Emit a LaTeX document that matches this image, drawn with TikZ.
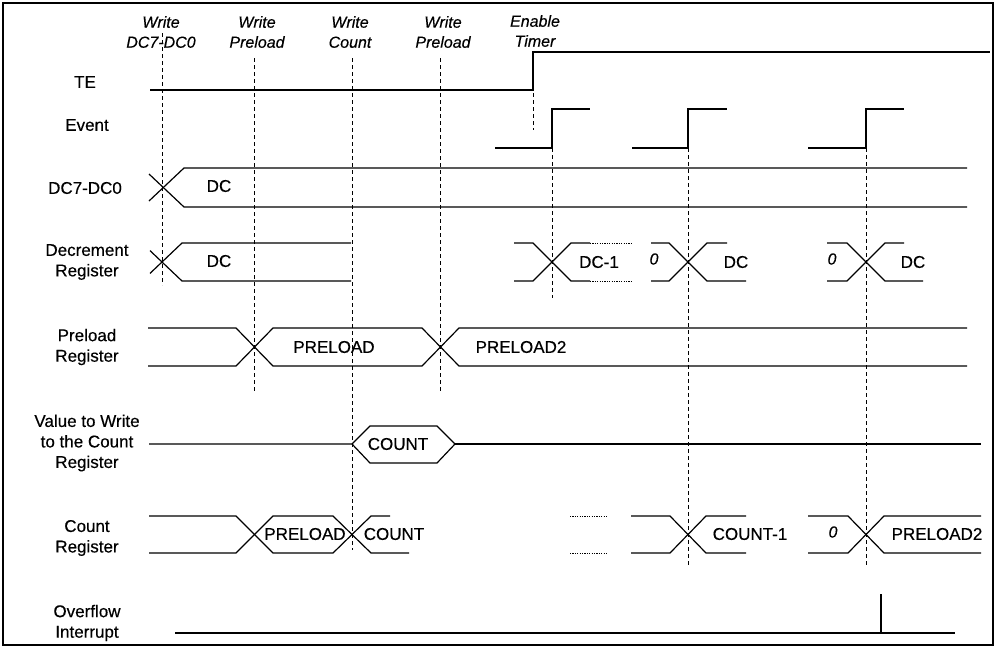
\documentclass[tikz,border=0pt]{standalone}
\usepackage{fontspec}
\setmainfont{Liberation Sans}
\newfontfamily\scanfont[FakeBold=0.35]{Liberation Sans}
\begin{document}
\begin{tikzpicture}[x=1pt,y=-1pt,
 sig/.style={line width=1.2pt},
 guide/.style={line width=0.9pt, dash pattern=on 4pt off 3pt},
 dots/.style={line width=1pt, dash pattern=on 1.2pt off 1.2pt},
 lbl/.style={font=\scanfont\fontsize{17}{20.5}\selectfont, align=center, inner sep=0pt},
 tlbl/.style={font=\scanfont\fontsize{16}{20}\selectfont\itshape, align=center, inner sep=0pt},
 val/.style={font=\scanfont\fontsize{17}{20}\selectfont, inner sep=0pt},
 zero/.style={font=\scanfont\fontsize{16}{20}\selectfont\itshape, inner sep=0pt}]
\useasboundingbox (0,0) rectangle (997,649);
\draw[line width=1.3pt] (3,3) rectangle (993,645);

% top labels
\node[tlbl] (t1) at (161,32) {Write\\DC7-DC0};
\node[tlbl] (t2) at (257,32) {Write\\Preload};
\node[tlbl] (t3) at (350,32) {Write\\Count};
\node[tlbl] (t4) at (443,32) {Write\\Preload};
\node[tlbl] (t5) at (535,31) {Enable\\Timer};

% left labels
\node[lbl] (lte) at (85,82) {TE};
\node[lbl] (lev) at (87,125) {Event};
\node[lbl] (ldc) at (85,188) {DC7-DC0};
\node[lbl] (ldr) at (87,262) {Decrement\\Register};
\node[lbl] (lpr) at (87,347) {Preload\\Register};
\node[lbl] (lvw) at (87,443) {Value to Write\\to the Count\\Register};
\node[lbl] (lcr) at (87,538) {Count\\Register};
\node[lbl] (lov) at (87,623) {Overflow\\Interrupt};

% guide lines
\draw[guide] (162,33) -- (162,285);
\draw[guide] (254,58) -- (254,393);
\draw[guide] (352,58) -- (352,550);
\draw[guide] (440,58) -- (440,393);
\draw[guide] (533,93) -- (533,130);
\draw[guide] (552,148) -- (552,298);
\draw[guide] (688,148) -- (688,565);
\draw[guide] (866,148) -- (866,565);

% TE
\draw[sig] (150,90) -- (533,90) -- (533,52) -- (990,52);

% Event
\draw[sig] (495,148) -- (552,148) -- (552,109) -- (590,109);
\draw[sig] (632,148) -- (688,148) -- (688,109) -- (727,109);
\draw[sig] (808,148) -- (866,148) -- (866,109) -- (904,109);

% DC7-DC0
\draw[sig] (149,174) -- (184,207) -- (967,207);
\draw[sig] (149,201) -- (184,168) -- (967,168);
\node[val] (vdc) at (219,186) {DC};

% Decrement register
\draw[sig] (150,250.6) -- (182,281) -- (351,281);
\draw[sig] (150,273.4) -- (182,243) -- (351,243);
\node[val] (vdr1) at (219,261) {DC};
\draw[sig] (514,243) -- (533,243) -- (571,281) -- (590,281);
\draw[sig] (514,281) -- (533,281) -- (571,243) -- (590,243);
\draw[dots] (590,281) -- (632,281);
\draw[dots] (590,243) -- (632,243);
\node[val] (vdr2) at (599,262) {DC-1};
\node[zero] (z1) at (654,259) {0};
\draw[sig] (651,243) -- (669,243) -- (707,281) -- (746,281);
\draw[sig] (651,281) -- (669,281) -- (707,243) -- (727,243);
\node[val] (vdr3) at (736,262) {DC};
\node[zero] (z2) at (832,259) {0};
\draw[sig] (827,243) -- (847,243) -- (885,281) -- (923,281);
\draw[sig] (827,281) -- (847,281) -- (885,243) -- (904,243);
\node[val] (vdr4) at (913,262) {DC};

% Preload register
\draw[sig] (148,328) -- (236,328) -- (273,366) -- (422,366) -- (459,328) -- (967,328);
\draw[sig] (148,366) -- (236,366) -- (273,328) -- (422,328) -- (459,366) -- (967,366);
\node[val] (vp1) at (334,347) {PRELOAD};
\node[val] (vp2) at (521,347) {PRELOAD2};

% Value to write
\draw[sig] (149,444) -- (352,444) -- (370,426) -- (437,426) -- (455,444) -- (437,463) -- (370,463) -- (352,444);
\draw[sig] (455,444) -- (981,444);
\node[val] (vvw) at (398,444) {COUNT};

% Count register
\draw[sig] (149,516) -- (236,516) -- (273,553) -- (333,553) -- (371,516) -- (390,516);
\draw[sig] (149,553) -- (236,553) -- (273,516) -- (333,516) -- (371,553) -- (409,553);
\node[val] (vc1) at (305,534) {PRELOAD};
\node[val] (vc2) at (394,534) {COUNT};
\draw[dots] (570,516) -- (607,516);
\draw[dots] (570,553) -- (607,553);
\draw[sig] (631,516) -- (670,516) -- (706,553) -- (746,553);
\draw[sig] (631,553) -- (670,553) -- (706,516) -- (746,516);
\node[val] (vc3) at (750,534) {COUNT-1};
\node[zero] (z3) at (833,532) {0};
\draw[sig] (808,516) -- (848,516) -- (884,553) -- (981,553);
\draw[sig] (808,553) -- (848,553) -- (884,516) -- (981,516);
\node[val] (vc4) at (937,534) {PRELOAD2};

% Overflow interrupt
\draw[sig] (175,633) -- (955,633);
\draw[sig] (881,594) -- (881,633);
\end{tikzpicture}
\end{document}
